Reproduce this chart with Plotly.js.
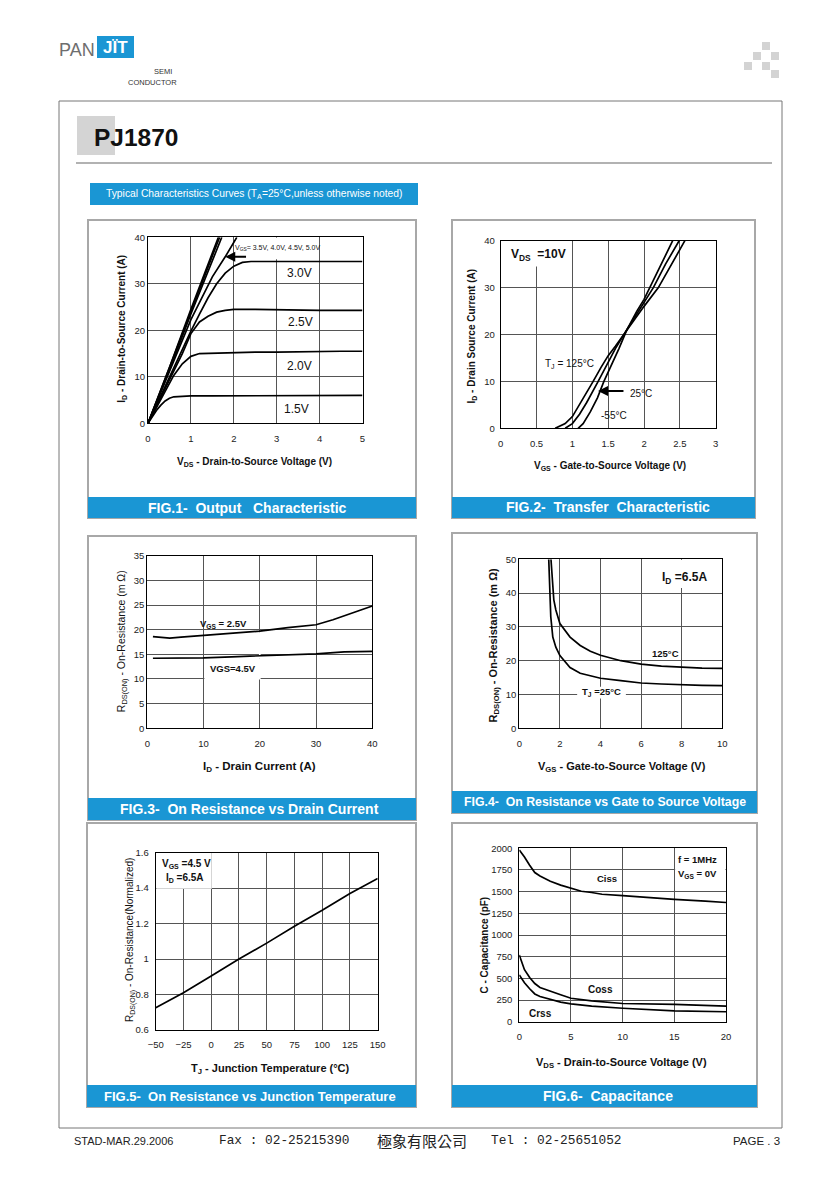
<!DOCTYPE html>
<html><head><meta charset="utf-8">
<script src="https://cdn.plot.ly/plotly-3.0.1.min.js"></script>
<style>html,body{margin:0;padding:0;background:#fff}#chart{width:840px;height:1189px}</style>
</head><body><div id="chart"></div>
<script>
// ---------------- DATA ----------------
// FIG.1 Output characteristic (VDS in V, ID in A)
const fig1_vds_15 = [0,0.1,0.2,0.3,0.4,0.5,0.6,0.8,1,1.5,2,2.5,3,3.5,4,4.5,5];
const fig1_id_15  = [0,1.4,2.8,3.9,4.8,5.4,5.7,5.8,5.9,5.9,5.9,5.9,5.9,6.0,6.0,6.0,6.0];
const fig1_vds_20 = [0,0.2,0.4,0.6,0.8,1.0,1.2,1.5,2,2.5,3,3.5,4,4.5,5];
const fig1_id_20  = [0,3.5,7,10.3,12.8,14.4,15,15.1,15.2,15.3,15.3,15.4,15.5,15.5,15.5];
const fig1_vds_25 = [0,0.2,0.4,0.6,0.8,1.0,1.2,1.4,1.6,1.8,2.0,2.5,3,3.5,4,4.5,5];
const fig1_id_25  = [0,3.8,7.5,11.3,15,19.3,21.8,23,23.9,24.3,24.5,24.5,24.4,24.4,24.3,24.3,24.3];
const fig1_vds_30 = [0,0.2,0.4,0.6,0.8,1.0,1.2,1.4,1.6,1.8,2.0,2.2,2.4,3,4,5];
const fig1_id_30  = [0,4,8,12,15.8,19.8,23.5,27,30,32.3,33.8,34.6,34.8,34.8,34.8,34.8];
const fig1_vds_35 = [0,0.5,1.0,1.5,1.8,2.07];
const fig1_id_35  = [0,11,22.3,31.5,35.8,40];
const fig1_vds_40 = [0,0.5,1.0,1.5,1.72];
const fig1_id_40  = [0,11.5,23.5,35,40];
const fig1_vds_45 = [0,0.5,1.0,1.5,1.67];
const fig1_id_45  = [0,11.8,24,36,40];
const fig1_vds_50 = [0,0.5,1.0,1.5,1.64];
const fig1_id_50  = [0,12,24.5,36.6,40];
const fig1_labels = ['1.5V','2.0V','2.5V','3.0V'];

// FIG.2 Transfer characteristic (VGS in V, ID in A)
const fig2_vgs_125 = [0.76,0.9,1.0,1.1,1.2,1.29,1.4,1.5,1.6,1.76,1.9,2.0,2.2,2.4,2.57];
const fig2_id_125  = [0,1,2.5,5,7.5,10,13,15.5,17.5,21,24,26,30,35.5,40];
const fig2_vgs_25  = [0.9,1.0,1.1,1.2,1.36,1.5,1.6,1.76,1.9,2.0,2.13,2.3,2.49];
const fig2_id_25   = [0,1,3,5.5,10,14,17,21,24.5,27,30,35,40];
const fig2_vgs_m55 = [1.08,1.15,1.25,1.35,1.44,1.55,1.65,1.76,1.9,2.0,2.08,2.25,2.40];
const fig2_id_m55  = [0,1,3.5,6.5,10,13.5,17,21,25,27.5,30,35,40];

// FIG.3 On resistance vs drain current (ID in A, RDS(on) in mOhm)
const fig3_id_25 = [1,2,4,6,10,15,20,25,30,33,36,38,40];
const fig3_r_25  = [18.6,18.5,18.3,18.5,18.8,19.2,19.7,20.4,21.0,22.0,23.2,24.0,24.8];
const fig3_id_45 = [1,5,10,15,20,25,30,35,40];
const fig3_r_45  = [14.2,14.2,14.3,14.5,14.7,14.9,15.1,15.5,15.6];

// FIG.4 On resistance vs gate-source voltage (VGS in V, RDS(on) in mOhm)
const fig4_vgs_25  = [1.45,1.5,1.55,1.65,1.8,2.0,2.5,3,4,5,6,7,8,9,10];
const fig4_r_25    = [50,40,33,27,24,21.5,18,16.3,14.8,14.1,13.4,13.1,12.8,12.7,12.6];
const fig4_vgs_125 = [1.56,1.62,1.7,1.8,2.0,2.5,3,3.5,4,5,6,7,8,9,10];
const fig4_r_125   = [50,43,38,35,31,27,24.5,22.8,21.6,20,19,18.4,18,17.8,17.7];

// FIG.5 Normalized on resistance vs junction temperature
const fig5_tj = [-50,-25,0,25,50,75,100,125,150];
const fig5_r  = [0.725,0.81,0.905,1.0,1.09,1.185,1.275,1.37,1.455];

// FIG.6 Capacitance (VDS in V, C in pF)
const fig6_vds_ciss = [0,0.5,1,1.5,2,3,4,5,6,7,8,10,12,15,18,20];
const fig6_ciss     = [1980,1900,1805,1720,1680,1620,1575,1540,1505,1490,1470,1455,1435,1410,1390,1375];
const fig6_vds_coss = [0,0.5,1,1.5,2,3,4,5,7,10,15,20];
const fig6_coss     = [770,600,510,440,395,350,310,270,240,210,200,180];
const fig6_vds_crss = [0,0.5,1,1.5,2,3,4,5,7,10,12,15,20];
const fig6_crss     = [540,450,380,320,290,255,225,205,180,155,145,125,115];

const fig_captions = ['FIG.1-\u00a0\u00a0Output\u00a0\u00a0\u00a0Characteristic',
  'FIG.2-\u00a0\u00a0Transfer\u00a0\u00a0Characteristic',
  'FIG.3-\u00a0\u00a0On Resistance vs Drain Current',
  'FIG.4-\u00a0\u00a0On Resistance vs Gate to Source Voltage',
  'FIG.5-\u00a0\u00a0On Resistance vs Junction Temperature',
  'FIG.6-\u00a0\u00a0Capacitance'];

// ---------------- LAYOUT HELPERS ----------------
const W = 840, H = 1189;
const F = 'Liberation Sans, Arial, sans-serif';
const BLUE = '#1a96d4';
const px = x => x / W;
const py = y => 1 - y / H;
const xd = (a, b) => [px(a), px(b)];
const yd = (top, bot) => [py(bot), py(top)];

function ax(extra) {
  return Object.assign({
    showline: true, mirror: true, linecolor: '#000', linewidth: 1,
    showgrid: true, gridcolor: '#555', gridwidth: 1, zeroline: false,
    ticks: '', tickfont: {family: F, size: 9.5, color: '#222'}, fixedrange: true
  }, extra);
}
function line(x, y, xa, ya) {
  return {x: x, y: y, xaxis: xa, yaxis: ya, type: 'scatter', mode: 'lines',
          line: {color: '#000', width: 1.7}, hoverinfo: 'skip', showlegend: false};
}
function rectP(x0, y0, x1, y1, fill, lineCol, lw) {
  return {type: 'rect', xref: 'paper', yref: 'paper', x0: px(x0), x1: px(x1), y0: py(y1), y1: py(y0),
          fillcolor: fill || 'rgba(0,0,0,0)', line: {color: lineCol || 'rgba(0,0,0,0)', width: lw || 0}, layer: 'below'};
}
function cover(xr, yr, x0, x1, y0, y1) {
  return {type: 'rect', xref: xr, yref: yr, x0: x0, x1: x1, y0: y0, y1: y1,
          fillcolor: '#fff', line: {width: 0}, layer: 'between'};
}
function txtP(x, y, text, size, opts) {
  return Object.assign({xref: 'paper', yref: 'paper', x: px(x), y: py(y), text: text, showarrow: false,
    xanchor: 'center', yanchor: 'middle', font: {family: F, size: size, color: '#111'}}, opts || {});
}
function txtD(xr, yr, x, y, text, size, bold, opts) {
  return Object.assign({xref: xr, yref: yr, x: x, y: y, text: bold ? '<b>' + text + '</b>' : text, showarrow: false,
    xanchor: 'center', yanchor: 'middle', font: {family: F, size: size, color: '#111'}}, opts || {});
}

// ---------------- TRACES ----------------
const traces = [
  line(fig1_vds_15, fig1_id_15, 'x', 'y'), line(fig1_vds_20, fig1_id_20, 'x', 'y'),
  line(fig1_vds_25, fig1_id_25, 'x', 'y'), line(fig1_vds_30, fig1_id_30, 'x', 'y'),
  line(fig1_vds_35, fig1_id_35, 'x', 'y'), line(fig1_vds_40, fig1_id_40, 'x', 'y'),
  line(fig1_vds_45, fig1_id_45, 'x', 'y'), line(fig1_vds_50, fig1_id_50, 'x', 'y'),
  line(fig2_vgs_125, fig2_id_125, 'x2', 'y2'), line(fig2_vgs_25, fig2_id_25, 'x2', 'y2'),
  line(fig2_vgs_m55, fig2_id_m55, 'x2', 'y2'),
  line(fig3_id_25, fig3_r_25, 'x3', 'y3'), line(fig3_id_45, fig3_r_45, 'x3', 'y3'),
  line(fig4_vgs_25, fig4_r_25, 'x4', 'y4'), line(fig4_vgs_125, fig4_r_125, 'x4', 'y4'),
  line(fig5_tj, fig5_r, 'x5', 'y5'),
  line(fig6_vds_ciss, fig6_ciss, 'x6', 'y6'), line(fig6_vds_coss, fig6_coss, 'x6', 'y6'),
  line(fig6_vds_crss, fig6_crss, 'x6', 'y6')
];

// ---------------- SHAPES ----------------
const shapes = [
  // page frame and header
  rectP(59, 101, 782, 1128, null, '#777', 1),
  {type: 'line', xref: 'paper', yref: 'paper', x0: px(76), x1: px(772), y0: py(163), y1: py(163), line: {color: '#999', width: 1.5}, layer: 'below'},
  rectP(77, 116, 115, 155, '#d4d4d4'),
  rectP(97, 36, 134, 58, BLUE),
  rectP(90, 183, 418, 205, BLUE),
  // decorative squares
  rectP(762, 42, 770, 50, '#d3d3d3'), rectP(753, 52, 761, 60, '#d3d3d3'), rectP(771, 52, 779, 60, '#d3d3d3'),
  rectP(744, 62, 752, 70, '#d3d3d3'), rectP(762, 62, 770, 70, '#d3d3d3'), rectP(771, 70, 779, 78, '#d3d3d3'),
  // panels
  rectP(88, 220, 416, 518, null, '#a8a8a8', 2), rectP(88, 497, 416, 518, BLUE),
  rectP(452, 220, 755, 518, null, '#a8a8a8', 2), rectP(452, 497, 755, 518, BLUE),
  rectP(88, 536, 416, 820, null, '#a8a8a8', 2), rectP(88, 798, 416, 820, BLUE),
  rectP(452, 533, 757, 813, null, '#a8a8a8', 2), rectP(452, 791, 757, 813, BLUE),
  rectP(87, 823, 416, 1107, null, '#a8a8a8', 2), rectP(87, 1085, 416, 1107, BLUE),
  rectP(452, 823, 757, 1107, null, '#a8a8a8', 2), rectP(452, 1085, 757, 1107, BLUE),
  // white boxes behind in-plot labels (hide grid only)
  cover('x', 'y', 2.05, 3.95, 35.3, 39.95),
  cover('x2', 'y2', 0.01, 0.98, 34.5, 39.95),
  cover('x3', 'y3', 10.15, 20.15, 9.9, 14.1),
  cover('x3', 'y3', 19.85, 20.15, 14.1, 19.5),
  cover('x4', 'y4', 7.4, 9.95, 41.5, 49.9),
  cover('x4', 'y4', 2.85, 5.25, 8.8, 12.3),
  cover('x5', 'y5', -49.5, 0.5, 1.397, 1.598),
  cover('x6', 'y6', 15.08, 19.95, 1570, 1995)
];

// ---------------- ANNOTATIONS ----------------
const ann = [
  // header
  txtP(76.5, 50, 'PAN', 18, {font: {family: F, size: 18, color: '#6e6e6e'}}),
  txtP(115.5, 48, '<b>JÏT</b>', 17, {font: {family: F, size: 17, color: '#fff'}}),
  txtP(163, 72, 'SEMI', 7.5, {font: {family: F, size: 7.5, color: '#333'}}),
  txtP(152, 82, 'CONDUCTOR', 7.5, {font: {family: F, size: 7.5, color: '#333'}}),
  txtP(92, 137.5, '<b>PJ1870</b>', 24.5, {xanchor: 'left'}),
  txtP(255, 194, 'Typical Characteristics Curves (T<sub>A</sub>=25°C,unless otherwise noted)', 10.3, {font: {family: F, size: 10.3, color: '#fff'}}),
  // captions
  txtP(247, 508, '<b>' + fig_captions[0] + '</b>', 14, {font: {family: F, size: 14, color: '#fff'}}),
  txtP(607.5, 507.5, '<b>' + fig_captions[1] + '</b>', 14, {font: {family: F, size: 14, color: '#fff'}}),
  txtP(249, 809, '<b>' + fig_captions[2] + '</b>', 14, {font: {family: F, size: 14, color: '#fff'}}),
  txtP(605, 802, '<b>' + fig_captions[3] + '</b>', 12.3, {font: {family: F, size: 12.3, color: '#fff'}}),
  txtP(249.5, 1096, '<b>' + fig_captions[4] + '</b>', 13, {font: {family: F, size: 13, color: '#fff'}}),
  txtP(608, 1096, '<b>' + fig_captions[5] + '</b>', 14, {font: {family: F, size: 14, color: '#fff'}}),
  // axis titles
  txtP(121.7, 329, '<b>I<sub>D</sub> - Drain-to-Source Current (A)</b>', 10, {textangle: -90}),
  txtP(255, 462, '<b>V<sub>DS</sub> - Drain-to-Source Voltage (V)</b>', 10),
  txtP(471, 336.5, '<b>I<sub>D</sub> - Drain Source Current (A)</b>', 10, {textangle: -90}),
  txtP(609.5, 466, '<b>V<sub>GS</sub> - Gate-to-Source Voltage (V)</b>', 10),
  txtP(121.7, 641.5, 'R<sub>DS(ON)</sub> - On-Resistance (m Ω)', 10.5, {textangle: -90}),
  txtP(259.5, 767, '<b>I<sub>D</sub> - Drain Current (A)</b>', 11.5),
  txtP(493, 645.5, '<b>R<sub>DS(ON)</sub> - On-Resistance (m Ω)</b>', 11, {textangle: -90}),
  txtP(622, 767, '<b>V<sub>GS</sub> - Gate-to-Source Voltage (V)</b>', 11),
  txtP(130, 940, 'R<sub>DS(ON)</sub> - On-Resistance(Normalized)', 10, {textangle: -90}),
  txtP(270, 1069, '<b>T<sub>J</sub> - Junction Temperature (°C)</b>', 11),
  txtP(483.5, 945, '<b>C - Capacitance (pF)</b>', 10, {textangle: -90}),
  txtP(621.5, 1063, '<b>V<sub>DS</sub> - Drain-to-Source Voltage (V)</b>', 11),
  // fig1 labels
  txtD('x', 'y', 3.53, 32.3, fig1_labels[3], 12, false),
  txtD('x', 'y', 3.55, 21.8, fig1_labels[2], 12, false),
  txtD('x', 'y', 3.52, 12.3, fig1_labels[1], 12, false),
  txtD('x', 'y', 3.47, 3.1, fig1_labels[0], 12, false),
  txtD('x', 'y', 3.03, 37.7, 'V<sub>GS</sub>= 3.5V, 4.0V, 4.5V, 5.0V', 7, false),
  {xref: 'x', yref: 'y', axref: 'x', ayref: 'y', x: 1.8, y: 35.8, ax: 2.32, ay: 35.8, text: '',
   showarrow: true, arrowhead: 2, arrowsize: 1, arrowwidth: 2, arrowcolor: '#000'},
  // fig2 labels
  txtD('x2', 'y2', 0.534, 36.9, 'V<sub>DS</sub>  =10V', 12, true),
  txtD('x2', 'y2', 0.953, 13.7, 'T<sub>J</sub> = 125°C', 10, false),
  txtD('x2', 'y2', 1.958, 7.5, '25°C', 10, false),
  txtD('x2', 'y2', 1.574, 2.8, '-55°C', 10, false),
  {xref: 'x2', yref: 'y2', axref: 'x2', ayref: 'y2', x: 1.358, y: 7.95, ax: 1.734, ay: 7.95, text: '',
   showarrow: true, arrowhead: 2, arrowsize: 1, arrowwidth: 2, arrowcolor: '#000'},
  // fig3 labels
  txtD('x3', 'y3', 13.5, 21.2, 'V<sub>GS</sub> = 2.5V', 9.5, true),
  txtD('x3', 'y3', 15.3, 12.2, 'VGS=4.5V', 9.5, true),
  // fig4 labels
  txtD('x4', 'y4', 8.14, 44.5, 'I<sub>D</sub> =6.5A', 12, true),
  txtD('x4', 'y4', 7.18, 22.0, '125°C', 9.5, true),
  txtD('x4', 'y4', 4.05, 10.7, 'T<sub>J</sub> =25°C', 9.5, true),
  // fig5 labels
  txtD('x5', 'y5', -22.7, 1.536, 'V<sub>GS</sub> =4.5 V', 10, true),
  txtD('x5', 'y5', -23.2, 1.457, 'I<sub>D</sub> =6.5A', 10, true),
  // fig6 labels
  txtD('x6', 'y6', 8.49, 1655, 'Ciss', 9.5, true),
  txtD('x6', 'y6', 7.81, 376, 'Coss', 10, true),
  txtD('x6', 'y6', 2.05, 100, 'Crss', 10, true),
  txtD('x6', 'y6', 17.2, 1874, 'f = 1MHz', 9.5, true),
  txtD('x6', 'y6', 17.25, 1701, 'V<sub>GS</sub> = 0V', 9.5, true),
  // footer
  txtP(123.5, 1141, 'STAD-MAR.29.2006', 11, {font: {family: F, size: 11, color: '#222'}}),
  txtP(217, 1140, 'Fax : 02-25215390', 12.8, {xanchor: 'left', font: {family: 'Liberation Mono, monospace', size: 12.8, color: '#222'}}),
  txtP(375, 1140, '極象有限公司', 15, {xanchor: 'left', font: {family: 'Noto Sans CJK TC, sans-serif', size: 15, color: '#222'}}),
  txtP(489, 1140, 'Tel : 02-25651052', 12.8, {xanchor: 'left', font: {family: 'Liberation Mono, monospace', size: 12.8, color: '#222'}}),
  txtP(782, 1141, 'PAGE . 3', 11.5, {xanchor: 'right', font: {family: F, size: 11.5, color: '#222'}})
];

const layout = {
  width: W, height: H, margin: {l: 0, r: 0, t: 0, b: 0}, showlegend: false,
  paper_bgcolor: '#fff', plot_bgcolor: '#fff', font: {family: F},
  xaxis:  ax({domain: xd(148, 362.5), range: [0, 5], dtick: 1, tick0: 0, anchor: 'y', ticklabelstandoff: 6}),
  yaxis:  ax({domain: yd(237.3, 423.3), range: [0, 40], dtick: 10, tick0: 0, anchor: 'x'}),
  xaxis2: ax({domain: xd(500.7, 715.7), range: [0, 3], dtick: 0.5, tick0: 0, anchor: 'y2', ticklabelstandoff: 6}),
  yaxis2: ax({domain: yd(240.7, 428.3), range: [0, 40], dtick: 10, tick0: 0, anchor: 'x2', ticklabelstandoff: 3}),
  xaxis3: ax({domain: xd(147.3, 372.3), range: [0, 40], dtick: 10, tick0: 0, anchor: 'y3', ticklabelstandoff: 6}),
  yaxis3: ax({domain: yd(555.7, 728.3), range: [0, 35], dtick: 5, tick0: 0, anchor: 'x3'}),
  xaxis4: ax({domain: xd(519.3, 722.3), range: [0, 10], dtick: 2, tick0: 0, anchor: 'y4', ticklabelstandoff: 6}),
  yaxis4: ax({domain: yd(559.3, 728.3), range: [0, 50], dtick: 10, tick0: 0, anchor: 'x4'}),
  xaxis5: ax({domain: xd(155.7, 377.7), range: [-50, 150], dtick: 25, tick0: 0, anchor: 'y5', ticklabelstandoff: 6}),
  yaxis5: ax({domain: yd(852.7, 1030), range: [0.6, 1.6], dtick: 0.2, tick0: 0.6, anchor: 'x5', ticklabelstandoff: 4}),
  xaxis6: ax({domain: xd(519.3, 726), range: [0, 20], dtick: 5, tick0: 0, anchor: 'y6', ticklabelstandoff: 6}),
  yaxis6: ax({domain: yd(848.3, 1021.7), range: [0, 2000], dtick: 250, tick0: 0, anchor: 'x6', ticklabelstandoff: 4}),
  shapes: shapes,
  annotations: ann
};

Plotly.newPlot('chart', traces, layout, {staticPlot: true, displayModeBar: false});
</script>
</body></html>
